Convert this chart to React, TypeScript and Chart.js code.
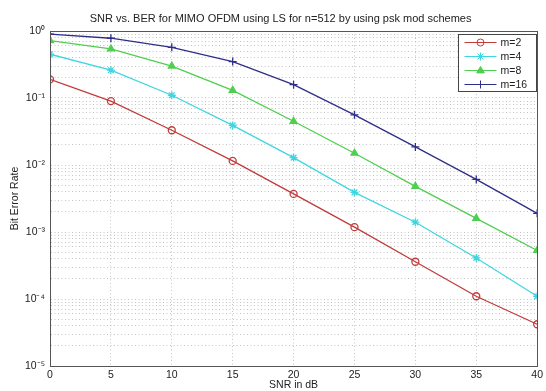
import React, { useEffect, useRef } from "react";
import { Chart, registerables } from "chart.js";

Chart.register(...registerables);

const snr = [0, 5, 10, 15, 20, 25, 30, 35, 40];
const berM2 = [0.19, 0.09, 0.033, 0.0115, 0.0037, 0.00118, 0.00036, 0.00011, 0.000042];
const berM4 = [0.45, 0.26, 0.11, 0.039, 0.0129, 0.0039, 0.0014, 0.00041, 0.00011];
const berM8 = [0.72, 0.54, 0.3, 0.13, 0.045, 0.015, 0.0048, 0.0016, 0.00053];
const berM16 = [0.9, 0.78, 0.57, 0.35, 0.158, 0.056, 0.0186, 0.0061, 0.0019];
const seriesLabels = ["m=2", "m=4", "m=8", "m=16"];
const xTicks = [0, 5, 10, 15, 20, 25, 30, 35, 40];
const yDecades = [-5, -4, -3, -2, -1, 0];
const titleText = "SNR vs. BER for MIMO OFDM using LS for n=512 by using psk mod schemes";
const xTitle = "SNR in dB";
const yTitle = "Bit Error Rate";

const FONT = "'Liberation Sans', Arial, sans-serif";
const SUP: Record<string, string> = {
  "0": "\u2070", "1": "\u00b9", "2": "\u00b2", "3": "\u00b3", "4": "\u2074",
  "5": "\u2075", "6": "\u2076", "7": "\u2077", "8": "\u2078", "9": "\u2079", "-": "\u207b",
};
const sup = (s: string) => s.split("").map((c) => SUP[c] || c).join("");

function drawMarker(ctx: CanvasRenderingContext2D, style: string, x: number, y: number, r: number, stroke: string, fill: string) {
  ctx.save();
  ctx.strokeStyle = stroke;
  ctx.fillStyle = fill;
  ctx.lineWidth = 1;
  ctx.beginPath();
  if (style === "circle") {
    ctx.arc(x, y, r, 0, Math.PI * 2);
    ctx.stroke();
  } else if (style === "triangle") {
    ctx.moveTo(x, y - r);
    ctx.lineTo(x + r * 0.95, y + r * 0.6);
    ctx.lineTo(x - r * 0.95, y + r * 0.6);
    ctx.closePath();
    ctx.fill();
    ctx.stroke();
  } else if (style === "star") {
    for (let i = 0; i < 4; i++) {
      const a = (i * Math.PI) / 4;
      ctx.moveTo(x - r * Math.cos(a), y - r * Math.sin(a));
      ctx.lineTo(x + r * Math.cos(a), y + r * Math.sin(a));
    }
    ctx.stroke();
  } else if (style === "cross") {
    ctx.moveTo(x - r, y);
    ctx.lineTo(x + r, y);
    ctx.moveTo(x, y - r);
    ctx.lineTo(x, y + r);
    ctx.stroke();
  }
  ctx.restore();
}

const framePlugin = {
  id: "frameTitleLegend",
  afterDraw(chart: any) {
    const { ctx, chartArea } = chart;
    const { left, right, top, bottom } = chartArea;
    ctx.save();
    // axes box
    ctx.strokeStyle = "#555";
    ctx.lineWidth = 1;
    ctx.strokeRect(Math.round(left) + 0.5, Math.round(top) + 0.5, Math.round(right - left), Math.round(bottom - top));
    // title
    ctx.fillStyle = "#222";
    ctx.font = `11px ${FONT}`;
    ctx.textAlign = "center";
    ctx.textBaseline = "middle";
    ctx.fillText(titleText, (left + right) / 2 - 13, 19);
    // legend
    const bw = 78, bh = 57;
    const bx = Math.round(right - 1 - bw) + 0.5;
    const by = Math.round(top + 3) + 0.5;
    ctx.fillStyle = "#fff";
    ctx.fillRect(bx, by, bw, bh);
    ctx.strokeStyle = "#444";
    ctx.strokeRect(bx, by, bw, bh);
    ctx.font = `10.5px ${FONT}`;
    ctx.textAlign = "left";
    chart.data.datasets.forEach((ds: any, i: number) => {
      const yy = by + 8 + i * 14;
      ctx.strokeStyle = ds.borderColor;
      ctx.lineWidth = 1.2;
      ctx.beginPath();
      ctx.moveTo(bx + 6, yy);
      ctx.lineTo(bx + 38, yy);
      ctx.stroke();
      drawMarker(ctx, ds.pointStyle, bx + 22, yy, ds.pointRadius, ds.borderColor, ds.pointBackgroundColor);
      ctx.fillStyle = "#222";
      ctx.fillText(ds.label, bx + 42, yy + 0.5);
    });
    ctx.restore();
  },
};

export default function App() {
  const ref = useRef<HTMLCanvasElement | null>(null);
  useEffect(() => {
    document.body.style.margin = "0";
    if (!ref.current) return;
    const yTickVals: number[] = [];
    for (let e = yDecades[0]; e < yDecades[yDecades.length - 1]; e++) {
      for (let k = 1; k <= 9; k++) yTickVals.push(k * Math.pow(10, e));
    }
    yTickVals.push(Math.pow(10, yDecades[yDecades.length - 1]));
    const mk = (arr: number[]) => snr.map((x, i) => ({ x, y: arr[i] }));
    const chart = new Chart(ref.current, {
      type: "line",
      data: {
        datasets: [
          { label: seriesLabels[0], data: mk(berM2), borderColor: "#c23b3b", pointStyle: "circle", pointRadius: 3.5, pointBackgroundColor: "rgba(0,0,0,0)", pointBorderColor: "#c23b3b", borderWidth: 1.3 },
          { label: seriesLabels[1], data: mk(berM4), borderColor: "#3fd6e0", pointStyle: "star", pointRadius: 4, pointBackgroundColor: "#3fd6e0", pointBorderColor: "#3fd6e0", borderWidth: 1.3 },
          { label: seriesLabels[2], data: mk(berM8), borderColor: "#4fcf4f", pointStyle: "triangle", pointRadius: 4, pointBackgroundColor: "#4fcf4f", pointBorderColor: "#4fcf4f", borderWidth: 1.3 },
          { label: seriesLabels[3], data: mk(berM16), borderColor: "#2e2e8a", pointStyle: "cross", pointRadius: 4, pointBackgroundColor: "#2e2e8a", pointBorderColor: "#2e2e8a", borderWidth: 1.3 },
        ] as any,
      },
      options: {
        animation: false,
        responsive: true,
        maintainAspectRatio: false,
        layout: { padding: { top: 31, right: 0, left: 0, bottom: 0 } },
        plugins: { legend: { display: false }, title: { display: false }, tooltip: { enabled: false } },
        elements: { line: { tension: 0 } },
        scales: {
          x: {
            type: "linear",
            min: 0,
            max: 40,
            afterBuildTicks: (s: any) => { s.ticks = xTicks.map((v) => ({ value: v })); },
            afterFit: (s: any) => { s.height = 25; },
            ticks: { font: { family: FONT, size: 10.5 }, color: "#222", padding: 3, maxRotation: 0 },
            grid: { color: "#c4c4c4", drawTicks: false, lineWidth: 1 },
            border: { display: true, color: "#555", dash: [1, 2.5] },
            title: { display: true, text: xTitle, font: { family: FONT, size: 10.5 }, color: "#222", padding: { top: 0, bottom: 0 } },
          },
          y: {
            type: "logarithmic",
            min: 1e-5,
            max: 1,
            afterBuildTicks: (s: any) => { s.ticks = yTickVals.map((v) => ({ value: v })); },
            afterFit: (s: any) => { s.width = 50; },
            ticks: {
              autoSkip: false,
              font: { family: FONT, size: 10.5 },
              color: "#222",
              padding: 5,
              callback: (v: any) => {
                const e = Math.log10(Number(v));
                const r = Math.round(e);
                return Math.abs(e - r) < 1e-6 ? "10" + sup(String(r)) : "";
              },
            },
            grid: { color: "#c4c4c4", drawTicks: false, lineWidth: 1 },
            border: { display: true, color: "#555", dash: [1, 2.5] },
            title: { display: true, text: yTitle, font: { family: FONT, size: 10.5 }, color: "#222", padding: { top: 9, bottom: 0 } },
          },
        },
      },
      plugins: [framePlugin],
    });
    return () => chart.destroy();
  }, []);
  return (
    <div style={{ position: "relative", width: 546, height: 391, background: "#fff" }}>
      <canvas ref={ref} />
    </div>
  );
}
